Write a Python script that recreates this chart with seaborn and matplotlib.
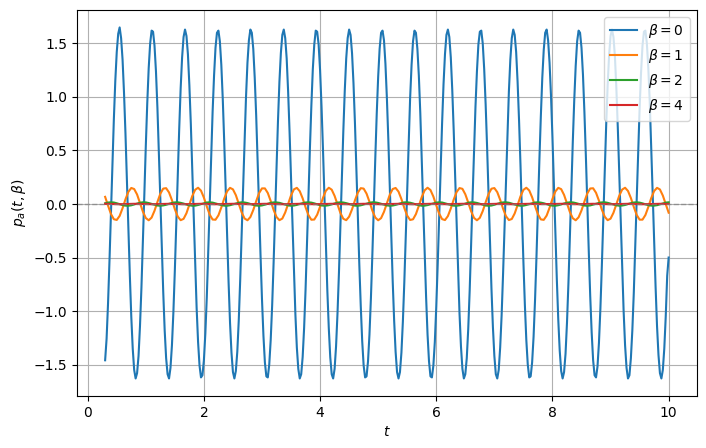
import matplotlib
matplotlib.use("Agg")
import matplotlib.pyplot as plt
import numpy as np
import pandas as pd
import seaborn as sns

# every series is sampled on an even grid from t = 0.3 to t = 10
t_start = 0.3
t_end = 10.0

# beta = 0 is read at twice the density of the others (step 0.025)
p_beta0 = [
    -1.46, -1.26, -0.93, -0.53, -0.09, 0.36, 0.79, 1.15, 1.42, 1.59,
    1.65, 1.55, 1.35, 1.04, 0.66, 0.22, -0.23, -0.66, -1.05, -1.35,
    -1.55, -1.63, -1.58, -1.42, -1.14, -0.78, -0.36, 0.09, 0.54, 0.94,
    1.27, 1.50, 1.62, 1.61, 1.48, 1.24, 0.90, 0.49, 0.05, -0.40,
    -0.82, -1.18, -1.44, -1.59, -1.63, -1.53, -1.32, -1.01, -0.62, -0.18,
    0.27, 0.70, 1.08, 1.37, 1.56, 1.63, 1.57, 1.40, 1.11, 0.75,
    0.32, -0.13, -0.57, -0.97, -1.29, -1.51, -1.62, -1.60, -1.46, -1.21,
    -0.87, -0.45, -0.01, 0.44, 0.86, 1.20, 1.46, 1.60, 1.62, 1.52,
    1.30, 0.98, 0.58, 0.14, -0.31, -0.73, -1.11, -1.39, -1.57, -1.63,
    -1.56, -1.38, -1.09, -0.71, -0.28, 0.17, 0.61, 1.00, 1.32, 1.53,
    1.63, 1.60, 1.45, 1.18, 0.83, 0.41, -0.03, -0.48, -0.89, -1.23,
    -1.48, -1.61, -1.62, -1.50, -1.27, -0.95, -0.55, -0.10, 0.35, 0.77,
    1.14, 1.41, 1.58, 1.63, 1.55, 1.36, 1.05, 0.67, 0.24, -0.21,
    -0.65, -1.03, -1.34, -1.54, -1.63, -1.59, -1.43, -1.16, -0.80, -0.38,
    0.07, 0.52, 0.92, 1.26, 1.49, 1.62, 1.61, 1.49, 1.25, 0.91,
    0.51, 0.06, -0.39, -0.81, -1.16, -1.43, -1.59, -1.63, -1.54, -1.33,
    -1.02, -0.64, -0.20, 0.25, 0.68, 1.06, 1.36, 1.55, 1.63, 1.58,
    1.41, 1.13, 0.76, 0.34, -0.11, -0.56, -0.95, -1.28, -1.51, -1.62,
    -1.61, -1.47, -1.22, -0.88, -0.47, -0.02, 0.42, 0.84, 1.19, 1.45,
    1.60, 1.62, 1.53, 1.31, 0.99, 0.60, 0.16, -0.29, -0.72, -1.09,
    -1.38, -1.57, -1.63, -1.57, -1.39, -1.10, -0.73, -0.30, 0.15, 0.59,
    0.99, 1.30, 1.52, 1.62, 1.60, 1.45, 1.20, 0.85, 0.43, -0.02,
    -0.46, -0.87, -1.22, -1.47, -1.61, -1.62, -1.51, -1.29, -0.96, -0.56,
    -0.12, 0.33, 0.75, 1.12, 1.40, 1.58, 1.63, 1.56, 1.37, 1.07,
    0.69, 0.26, -0.19, -0.63, -1.02, -1.33, -1.54, -1.63, -1.59, -1.44,
    -1.17, -0.81, -0.39, 0.06, 0.50, 0.91, 1.24, 1.49, 1.61, 1.62,
    1.50, 1.26, 0.93, 0.53, 0.08, -0.37, -0.79, -1.15, -1.42, -1.59,
    -1.63, -1.55, -1.34, -1.04, -0.65, -0.22, 0.23, 0.67, 1.05, 1.35,
    1.55, 1.63, 1.58, 1.42, 1.14, 0.78, 0.36, -0.10, -0.54, -0.94,
    -1.27, -1.50, -1.62, -1.61, -1.48, -1.24, -0.90, -0.49, -0.04, 0.41,
    0.82, 1.18, 1.44, 1.60, 1.63, 1.53, 1.32, 1.01, 0.62, 0.18,
    -0.27, -0.70, -1.08, -1.37, -1.56, -1.63, -1.57, -1.40, -1.11, -0.74,
    -0.32, 0.13, 0.58, 0.97, 1.29, 1.52, 1.62, 1.60, 1.46, 1.21,
    0.86, 0.45, 0.00, -0.44, -0.86, -1.20, -1.46, -1.60, -1.62, -1.52,
    -1.30, -0.98, -0.58, -0.14, 0.31, 0.74, 1.11, 1.39, 1.57, 1.63,
    1.56, 1.38, 1.08, 0.71, 0.28, -0.17, -0.61, -1.00, -1.32, -1.53,
    -1.63, -1.60, -1.44, -1.18, -0.83, -0.41, 0.04, 0.48, 0.89, 1.23,
    1.48, 1.61, 1.62, 1.50, 1.27, 0.95, 0.54, 0.10, -0.35, -0.77,
    -1.14, -1.41, -1.58, -1.63, -1.55, -1.35, -1.05, -0.67, -0.50,
]

p_beta1 = [
    0.067, -0.015, -0.093, -0.142, -0.149, -0.111, -0.039, 0.044, 0.114, 0.150,
    0.140, 0.089, 0.010, -0.071, -0.131, -0.152, -0.127, -0.063, 0.019, 0.096,
    0.144, 0.148, 0.108, 0.036, -0.048, -0.117, -0.151, -0.139, -0.086, -0.006,
    0.075, 0.133, 0.152, 0.125, 0.060, -0.023, -0.099, -0.145, -0.147, -0.106,
    -0.032, 0.051, 0.119, 0.151, 0.137, 0.083, 0.003, -0.078, -0.135, -0.152,
    -0.122, -0.056, 0.026, 0.102, 0.146, 0.146, 0.103, 0.028, -0.055, -0.121,
    -0.151, -0.136, -0.079, 0.001, 0.081, 0.137, 0.151, 0.120, 0.053, -0.030,
    -0.104, -0.147, -0.145, -0.100, -0.025, 0.058, 0.124, 0.152, 0.134, 0.076,
    -0.005, -0.084, -0.138, -0.151, -0.118, -0.050, 0.034, 0.107, 0.148, 0.144,
    0.097, 0.021, -0.062, -0.126, -0.152, -0.132, -0.073, 0.008, 0.087, 0.140,
    0.150, 0.116, 0.046, -0.037, -0.109, -0.149, -0.143, -0.094, -0.017, 0.065,
    0.128, 0.152, 0.131, 0.070, -0.012, -0.090, -0.141, -0.150, -0.113, -0.042,
    0.041, 0.112, 0.149, 0.142, 0.091, 0.014, -0.068, -0.130, -0.152, -0.129,
    -0.066, 0.016, 0.093, 0.143, 0.149, 0.111, 0.039, -0.044, -0.114, -0.150,
    -0.140, -0.088, -0.010, 0.072, 0.132, 0.152, 0.127, 0.063, -0.019, -0.096,
    -0.144, -0.148, -0.108, -0.035, 0.048, 0.117, 0.151, 0.139, 0.085, 0.006,
    -0.075, -0.133, -0.152, -0.124, -0.060, 0.023, 0.099, 0.145, 0.147, 0.105,
    0.032, -0.052, -0.119, -0.151, -0.137, -0.082, -0.003, 0.078, 0.135, 0.152,
    0.122, 0.056, -0.027, -0.102, -0.146, -0.146, -0.103, -0.028, 0.055, 0.121,
    0.151, 0.136, 0.079, -0.001, -0.081,
]

p_beta2 = [
    0.007, 0.014, 0.016, 0.014, 0.007, -0.002, -0.010, -0.015, -0.016, -0.012,
    -0.004, 0.005, 0.012, 0.016, 0.015, 0.009, 0.001, -0.007, -0.014, -0.016,
    -0.013, -0.007, 0.002, 0.010, 0.015, 0.016, 0.011, 0.004, -0.005, -0.012,
    -0.016, -0.015, -0.009, -0.001, 0.008, 0.014, 0.016, 0.013, 0.006, -0.002,
    -0.010, -0.015, -0.016, -0.011, -0.003, 0.005, 0.012, 0.016, 0.014, 0.009,
    0.000, -0.008, -0.014, -0.016, -0.013, -0.006, 0.003, 0.011, 0.015, 0.015,
    0.011, 0.003, -0.006, -0.013, -0.016, -0.014, -0.008, 0.000, 0.008, 0.014,
    0.016, 0.013, 0.006, -0.003, -0.011, -0.015, -0.015, -0.011, -0.003, 0.006,
    0.013, 0.016, 0.014, 0.008, 0.000, -0.009, -0.015, -0.016, -0.012, -0.005,
    0.003, 0.011, 0.016, 0.015, 0.010, 0.002, -0.006, -0.013, -0.016, -0.014,
    -0.008, 0.001, 0.009, 0.015, 0.016, 0.012, 0.005, -0.004, -0.011, -0.016,
    -0.015, -0.010, -0.002, 0.007, 0.013, 0.016, 0.014, 0.007, -0.001, -0.009,
    -0.015, -0.016, -0.012, -0.005, 0.004, 0.012, 0.016, 0.015, 0.010, 0.002,
    -0.007, -0.014, -0.016, -0.014, -0.007, 0.002, 0.010, 0.015, 0.016, 0.012,
    0.004, -0.005, -0.012, -0.016, -0.015, -0.009, -0.001, 0.007, 0.014, 0.016,
    0.013, 0.007, -0.002, -0.010, -0.015, -0.016, -0.011, -0.004, 0.005, 0.012,
    0.016, 0.015, 0.009, 0.001, -0.008, -0.014, -0.016, -0.013, -0.006, 0.002,
    0.010, 0.015, 0.016, 0.011, 0.003, -0.005, -0.012, -0.016, -0.014, -0.009,
    0.000, 0.008, 0.014, 0.016, 0.013, 0.006, -0.003, -0.011, -0.015, -0.015,
    -0.011, -0.003, 0.006, 0.013, 0.016,
]

p_beta4 = [
    0.002, 0.001, 0.000, -0.001, -0.002, -0.002, -0.001, 0.000, 0.001, 0.002,
    0.002, 0.002, 0.001, 0.000, -0.001, -0.002, -0.002, -0.002, -0.001, 0.000,
    0.001, 0.002, 0.002, 0.001, 0.000, -0.001, -0.002, -0.002, -0.002, -0.001,
    0.000, 0.001, 0.002, 0.002, 0.001, 0.001, -0.001, -0.001, -0.002, -0.002,
    -0.001, 0.000, 0.001, 0.002, 0.002, 0.002, 0.001, 0.000, -0.001, -0.002,
    -0.002, -0.001, -0.001, 0.001, 0.002, 0.002, 0.002, 0.001, 0.000, -0.001,
    -0.002, -0.002, -0.002, -0.001, 0.000, 0.001, 0.002, 0.002, 0.001, 0.000,
    -0.001, -0.002, -0.002, -0.002, -0.001, 0.000, 0.001, 0.002, 0.002, 0.002,
    0.001, 0.000, -0.001, -0.002, -0.002, -0.001, 0.000, 0.001, 0.002, 0.002,
    0.002, 0.001, 0.000, -0.001, -0.002, -0.002, -0.002, -0.001, 0.000, 0.001,
    0.002, 0.002, 0.001, 0.000, -0.001, -0.002, -0.002, -0.002, -0.001, 0.000,
    0.001, 0.002, 0.002, 0.002, 0.001, 0.000, -0.001, -0.002, -0.002, -0.001,
    0.000, 0.001, 0.002, 0.002, 0.002, 0.001, 0.000, -0.001, -0.002, -0.002,
    -0.002, -0.001, 0.000, 0.001, 0.002, 0.002, 0.001, 0.000, -0.001, -0.002,
    -0.002, -0.002, -0.001, 0.000, 0.001, 0.002, 0.002, 0.002, 0.001, -0.001,
    -0.001, -0.002, -0.002, -0.001, 0.000, 0.001, 0.002, 0.002, 0.002, 0.001,
    0.000, -0.001, -0.002, -0.002, -0.001, -0.001, 0.001, 0.001, 0.002, 0.002,
    0.001, 0.000, -0.001, -0.002, -0.002, -0.002, -0.001, 0.000, 0.001, 0.002,
    0.002, 0.001, 0.001, -0.001, -0.002, -0.002, -0.002, -0.001, 0.000, 0.001,
    0.002, 0.002, 0.002, 0.001, 0.000,
]

betas = [0, 1, 2, 4]
series = [p_beta0, p_beta1, p_beta2, p_beta4]
colors = sns.color_palette("tab10", 4)

fig, ax = plt.subplots(figsize=(7.06, 4.48), dpi=100)
fig.subplots_adjust(left=0.109, right=0.987, bottom=0.116, top=0.978)

for b, vals, c in zip(betas, series, colors):
    t = np.linspace(t_start, t_end, len(vals))
    dt = pd.DataFrame({"t": t, "p": vals})
    sns.lineplot(data=dt, x="t", y="p", color=c, linewidth=1.5,
                 estimator=None, label=rf"$\beta = {b}$", ax=ax)

ax.axhline(0, color="gray", linestyle="--", linewidth=1, alpha=0.7)

ax.set_xlabel(r"$t$")
ax.set_ylabel(r"$p_a(t, \beta)$")
ax.grid(True)
ax.legend(loc="upper right")

plt.savefig("out.png", dpi=100)
